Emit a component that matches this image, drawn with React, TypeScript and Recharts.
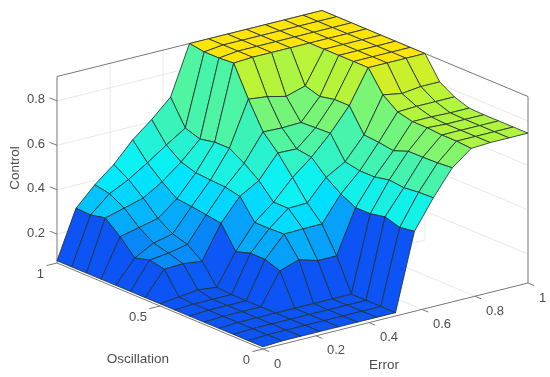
import { ScatterChart, Scatter, XAxis, YAxis } from 'recharts';

const errorTicks = [0, 0.2, 0.4, 0.6, 0.8, 1];
const oscillationTicks = [0, 0.5, 1];
const controlTicks = [0.2, 0.4, 0.6, 0.8];
const Z_MIN = 0.07;
const Z_MAX = 0.91;

// control value, one row per error step, oscillation step 0..14 inside each row
const controlByError = [
  [0.08, 0.08, 0.08, 0.08, 0.08, 0.08, 0.08, 0.08, 0.08, 0.08, 0.08, 0.08, 0.08, 0.08, 0.08],
  [0.085, 0.085, 0.085, 0.085, 0.085, 0.085, 0.085, 0.09, 0.187, 0.2, 0.182, 0.25, 0.307, 0.293, 0.295],
  [0.085, 0.085, 0.085, 0.085, 0.085, 0.085, 0.085, 0.1, 0.19, 0.21, 0.228, 0.27, 0.33, 0.367, 0.38],
  [0.085, 0.085, 0.085, 0.085, 0.085, 0.085, 0.085, 0.09, 0.18, 0.228, 0.248, 0.29, 0.354, 0.41, 0.45],
  [0.085, 0.085, 0.085, 0.085, 0.226, 0.25, 0.25, 0.23, 0.33, 0.34, 0.35, 0.357, 0.406, 0.464, 0.54],
  [0.085, 0.085, 0.085, 0.085, 0.255, 0.343, 0.34, 0.34, 0.43, 0.444, 0.448, 0.453, 0.474, 0.523, 0.61],
  [0.085, 0.085, 0.085, 0.085, 0.23, 0.345, 0.41, 0.41, 0.48, 0.53, 0.57, 0.57, 0.556, 0.578, 0.69],
  [0.085, 0.085, 0.085, 0.085, 0.23, 0.346, 0.413, 0.5, 0.583, 0.65, 0.77, 0.905, 0.9, 0.9, 0.91],
  [0.43, 0.42, 0.44, 0.426, 0.426, 0.46, 0.507, 0.57, 0.58, 0.647, 0.76, 0.91, 0.91, 0.91, 0.91],
  [0.56, 0.557, 0.55, 0.557, 0.543, 0.543, 0.556, 0.657, 0.654, 0.65, 0.74, 0.91, 0.91, 0.91, 0.91],
  [0.674, 0.668, 0.666, 0.665, 0.64, 0.65, 0.656, 0.76, 0.76, 0.746, 0.766, 0.91, 0.91, 0.91, 0.91],
  [0.74, 0.745, 0.745, 0.75, 0.75, 0.766, 0.815, 0.91, 0.91, 0.91, 0.91, 0.91, 0.91, 0.91, 0.91],
  [0.745, 0.745, 0.745, 0.745, 0.75, 0.77, 0.8, 0.91, 0.91, 0.91, 0.91, 0.91, 0.91, 0.91, 0.91],
  [0.745, 0.745, 0.745, 0.745, 0.747, 0.77, 0.81, 0.91, 0.91, 0.91, 0.91, 0.91, 0.91, 0.91, 0.91],
  [0.745, 0.745, 0.745, 0.745, 0.747, 0.77, 0.81, 0.91, 0.91, 0.91, 0.91, 0.91, 0.91, 0.91, 0.91],
];

const colorStops = [0.085, 0.38, 0.6, 0.75, 0.91];
const colorValues = [
  [12, 84, 245],
  [0, 240, 255],
  [88, 245, 150],
  [178, 245, 60],
  [255, 228, 8],
];

const STEPS = controlByError.length - 1;
const EDGE = '#213334';
const GRID = '#e8e8e8';
const AXIS = '#777777';
const TEXT = '#4d4d4d';
const FONT = '"Liberation Sans", Arial, sans-serif';

// fixed 3D view, same for every point of the plot
const project = (error: number, oscillation: number, control: number) => ({
  px: 263 + 265 * error - 206 * oscillation,
  py: 349 - 66 * error - 86 * oscillation - 222 * (control - Z_MIN),
});

const faceColor = (z: number) => {
  let k = 0;
  while (k < colorStops.length - 2 && z > colorStops[k + 1]) k++;
  const t = Math.min(1, Math.max(0, (z - colorStops[k]) / (colorStops[k + 1] - colorStops[k])));
  const a = colorValues[k];
  const b = colorValues[k + 1];
  return `rgb(${a.map((v, n) => Math.round(v + (b[n] - v) * t)).join(',')})`;
};

const drawFace = (p: any) => (
  <polygon
    points={p.points.map((q: any) => `${q.x},${q.y}`).join(' ')}
    fill={p.stroke}
    stroke={EDGE}
    strokeWidth={0.85}
    strokeLinejoin="round"
  />
);
const drawStroke = (color: string, width = 1) => (p: any) => (
  <polyline
    points={p.points.map((q: any) => `${q.x},${q.y}`).join(' ')}
    fill="none"
    stroke={color}
    strokeWidth={width}
  />
);
const noDot = () => <g />;

const drawText = (p: any) => {
  const d = p.payload ?? p;
  return (
    <text
      x={p.cx + d.dx}
      y={p.cy + d.dy}
      textAnchor={d.anchor}
      dominantBaseline="central"
      fontSize={d.size ?? 13}
      fontFamily={FONT}
      fill={TEXT}
      transform={d.rotate ? `rotate(${d.rotate} ${p.cx + d.dx} ${p.cy + d.dy})` : undefined}
    >
      {d.text}
    </text>
  );
};

const seg = (a: number[], b: number[]) => [project(a[0], a[1], a[2]), project(b[0], b[1], b[2])];

const gridLines = [
  ...controlTicks.flatMap((z) => [seg([0, 1, z], [1, 1, z]), seg([1, 1, z], [1, 0, z])]),
  ...errorTicks.slice(1, -1).flatMap((e) => [seg([e, 1, Z_MIN], [e, 1, Z_MAX]), seg([e, 1, Z_MIN], [e, 0, Z_MIN])]),
  ...[0.5].flatMap((o) => [seg([1, o, Z_MIN], [1, o, Z_MAX]), seg([0, o, Z_MIN], [1, o, Z_MIN])]),
];

const boxLines = [
  seg([0, 1, Z_MIN], [0, 1, Z_MAX]),
  seg([0, 1, Z_MAX], [1, 1, Z_MAX]),
  seg([1, 1, Z_MAX], [1, 0, Z_MAX]),
  seg([1, 0, Z_MIN], [1, 0, Z_MAX]),
  seg([0, 0, Z_MIN], [0, 1, Z_MIN]),
  seg([0, 0, Z_MIN], [1, 0, Z_MIN]),
  ...errorTicks.map((e) => seg([e, 0, Z_MIN], [e, -0.03, Z_MIN])),
  ...oscillationTicks.map((o) => seg([0, o, Z_MIN], [-0.04, o, Z_MIN])),
  ...controlTicks.map((z) => seg([0, 1, z], [0, 1.035, z])),
];

// painted back to front, face colour comes from its first corner
const faces: { color: string; corners: { px: number; py: number }[] }[] = [];
for (let i = STEPS - 1; i >= 0; i--) {
  for (let j = STEPS - 1; j >= 0; j--) {
    const z = controlByError;
    faces.push({
      color: faceColor(z[i][j]),
      corners: [
        project(i / STEPS, j / STEPS, z[i][j]),
        project((i + 1) / STEPS, j / STEPS, z[i + 1][j]),
        project((i + 1) / STEPS, (j + 1) / STEPS, z[i + 1][j + 1]),
        project(i / STEPS, (j + 1) / STEPS, z[i][j + 1]),
      ],
    });
  }
}

const labels = [
  ...controlTicks.map((z) => ({ ...project(0, 1, z), text: String(z), dx: -12, dy: -2, anchor: 'end' })),
  ...oscillationTicks.map((o) => ({ ...project(0, o, Z_MIN), text: String(o), dx: -13, dy: 10, anchor: 'end' })),
  ...errorTicks.map((e) => ({ ...project(e, 0, Z_MIN), text: String(e), dx: 11, dy: 14, anchor: 'start' })),
  { px: 138, py: 358, text: 'Oscillation', dx: 0, dy: 0, anchor: 'middle', size: 13.5 },
  { px: 384, py: 364, text: 'Error', dx: 0, dy: 0, anchor: 'middle', size: 13.5 },
  { px: 14, py: 168, text: 'Control', dx: 0, dy: 0, anchor: 'middle', size: 13.5, rotate: -90 },
];

export default function App() {
  return (
    <div style={{ position: 'absolute', left: 0, top: 0, background: '#fff', filter: 'blur(0.35px)' }}>
      <ScatterChart width={550} height={377} margin={{ top: 0, right: 0, bottom: 0, left: 0 }}>
        <XAxis type="number" dataKey="px" domain={[0, 550]} hide />
        <YAxis type="number" dataKey="py" domain={[0, 377]} reversed hide />
        {gridLines.map((d, k) => (
          <Scatter key={`g${k}`} data={d} line={drawStroke(GRID)} shape={noDot} isAnimationActive={false} />
        ))}
        {boxLines.map((d, k) => (
          <Scatter key={`b${k}`} data={d} line={drawStroke(AXIS)} shape={noDot} isAnimationActive={false} />
        ))}
        {faces.map((f, k) => (
          <Scatter key={`f${k}`} data={f.corners} fill={f.color} line={drawFace} shape={noDot} isAnimationActive={false} />
        ))}
        <Scatter data={labels} shape={drawText} isAnimationActive={false} />
      </ScatterChart>
    </div>
  );
}
